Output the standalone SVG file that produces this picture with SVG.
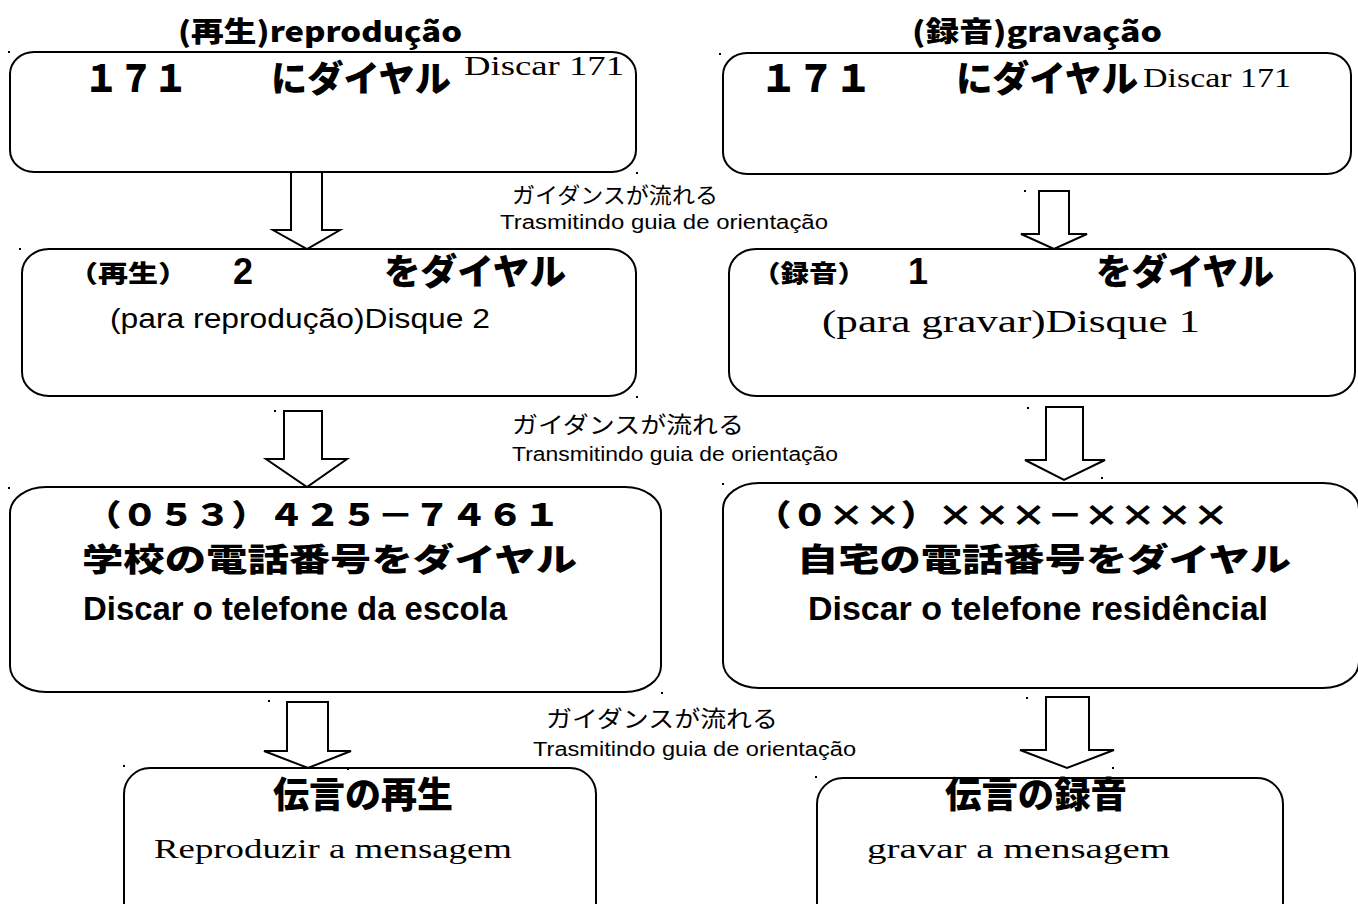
<svg xmlns="http://www.w3.org/2000/svg" width="1358" height="904" viewBox="0 0 1358 904">
<style>
.box{fill:#fff;stroke:#000;stroke-width:2}
.arr{fill:#fff;stroke:#000;stroke-width:2;stroke-linejoin:miter}
.jp{font-family:"Noto Sans CJK JP","Noto Sans CJK SC",sans-serif;font-weight:900;fill:#000}
.jpr{font-family:"Noto Sans CJK JP","Noto Sans CJK SC",sans-serif;font-weight:400;fill:#000}
.nar{font-family:"Liberation Sans Narrow","Liberation Sans","Noto Sans CJK JP",sans-serif;fill:#000}
.sans{font-family:"Liberation Sans",Arial,sans-serif;fill:#000}
.bnum{font-family:"Liberation Sans",Arial,sans-serif;font-weight:700;fill:#000}
.ser{font-family:"Liberation Serif","Times New Roman",serif;fill:#000}
.dot{fill:#000}
</style>
<rect width="1358" height="904" fill="#fff"/>

<g id="titles">
<text class="jp" x="178" y="42" font-size="28" textLength="284" lengthAdjust="spacingAndGlyphs">(再生)reprodução</text>
<text class="jp" x="912" y="42" font-size="28" textLength="250" lengthAdjust="spacingAndGlyphs">(録音)gravação</text>
</g>

<g id="connectors">
<polygon class="arr" points="291,172 322,172 322,230 340,230 307,249 273,230 291,230"/>
<polygon class="arr" points="1039,191 1069,191 1069,234 1087,234 1054,249 1021,234 1039,234"/>
<polygon class="arr" points="284,411 322,411 322,459 347,459 307,487 266,459 284,459"/>
<polygon class="arr" points="1046,407 1083,407 1083,460 1105,460 1064,480 1025,460 1046,460"/>
<polygon class="arr" points="287,702 328,702 328,751 351,751 308,768 264,751 287,751"/>
<polygon class="arr" points="1046,697 1089,697 1089,750 1114,750 1067,768 1020,750 1046,750"/>
</g>

<g id="guide1">
<text class="jpr" x="512" y="203" font-size="22" textLength="206" lengthAdjust="spacingAndGlyphs">ガイダンスが流れる</text>
<text class="nar" x="500" y="229" font-size="20" textLength="328" lengthAdjust="spacingAndGlyphs">Trasmitindo guia de orientação</text>
</g>
<g id="guide2">
<text class="jpr" x="512" y="433" font-size="23" textLength="232" lengthAdjust="spacingAndGlyphs">ガイダンスが流れる</text>
<text class="nar" x="512" y="461" font-size="20" textLength="326" lengthAdjust="spacingAndGlyphs">Transmitindo guia de orientação</text>
</g>
<g id="guide3">
<text class="jpr" x="546" y="727" font-size="23" textLength="232" lengthAdjust="spacingAndGlyphs">ガイダンスが流れる</text>
<text class="nar" x="533" y="756" font-size="20" textLength="323" lengthAdjust="spacingAndGlyphs">Trasmitindo guia de orientação</text>
</g>

<g id="dial171-play">
<rect class="box" x="10" y="52" width="626" height="120" rx="24" ry="22"/>
<text class="jp" x="84" y="92" font-size="38" textLength="104" lengthAdjust="spacingAndGlyphs">１７１</text>
<text class="jp" x="271" y="92" font-size="36" textLength="180" lengthAdjust="spacingAndGlyphs">にダイヤル</text>
<text class="ser" x="464" y="75" font-size="27" textLength="160" lengthAdjust="spacingAndGlyphs">Discar 171</text>
</g>

<g id="dial171-rec">
<rect class="box" x="723" y="53" width="628" height="121" rx="24" ry="22"/>
<text class="jp" x="760" y="92" font-size="38" textLength="112" lengthAdjust="spacingAndGlyphs">１７１</text>
<text class="jp" x="956" y="92" font-size="36" textLength="182" lengthAdjust="spacingAndGlyphs">にダイヤル</text>
<text class="ser" x="1143" y="87" font-size="27" textLength="148" lengthAdjust="spacingAndGlyphs">Discar 171</text>
</g>

<g id="dial2">
<rect class="box" x="22" y="249" width="614" height="147" rx="27" ry="24"/>
<text class="jp" x="68" y="282" font-size="24" textLength="120" lengthAdjust="spacingAndGlyphs">（再生）</text>
<text class="bnum" x="233" y="284" font-size="36">2</text>
<text class="jp" x="384" y="285" font-size="36" textLength="182" lengthAdjust="spacingAndGlyphs">をダイヤル</text>
<text class="sans" x="110" y="328" font-size="28" textLength="380" lengthAdjust="spacingAndGlyphs">(para reprodução)Disque 2</text>
</g>

<g id="dial1">
<rect class="box" x="729" y="249" width="626" height="147" rx="27" ry="24"/>
<text class="jp" x="752" y="282" font-size="24" textLength="114" lengthAdjust="spacingAndGlyphs">（録音）</text>
<text class="bnum" x="908" y="284" font-size="36">1</text>
<text class="jp" x="1096" y="285" font-size="36" textLength="178" lengthAdjust="spacingAndGlyphs">をダイヤル</text>
<text class="ser" x="822" y="332" font-size="32" textLength="378" lengthAdjust="spacingAndGlyphs">(para gravar)Disque 1</text>
</g>

<g id="school">
<rect class="box" x="10" y="487" width="651" height="205" rx="36" ry="26"/>
<text class="jp" x="85" y="526" font-size="30" textLength="475" lengthAdjust="spacingAndGlyphs">（０５３）４２５－７４６１</text>
<text class="jp" x="82" y="571" font-size="32" textLength="495" lengthAdjust="spacingAndGlyphs">学校の電話番号をダイヤル</text>
<text class="nar" x="83" y="620" font-size="33" font-weight="700" textLength="424" lengthAdjust="spacingAndGlyphs">Discar o telefone da escola</text>
</g>

<g id="home">
<rect class="box" x="723" y="483" width="636" height="205" rx="36" ry="26"/>
<text class="jp" x="755" y="526" font-size="30" textLength="474" lengthAdjust="spacingAndGlyphs">（０××）×××－××××</text>
<text class="jp" x="797" y="571" font-size="32" textLength="494" lengthAdjust="spacingAndGlyphs">自宅の電話番号をダイヤル</text>
<text class="nar" x="808" y="620" font-size="33" font-weight="700" textLength="460" lengthAdjust="spacingAndGlyphs">Discar o telefone residêncial</text>
</g>

<g id="play-msg">
<rect class="box" x="124" y="768" width="472" height="160" rx="26" ry="26"/>
<text class="jp" x="273" y="808" font-size="36" textLength="180" lengthAdjust="spacingAndGlyphs">伝言の再生</text>
<text class="ser" x="154" y="858" font-size="28" textLength="358" lengthAdjust="spacingAndGlyphs">Reproduzir a mensagem</text>
</g>

<g id="rec-msg">
<rect class="box" x="817" y="778" width="466" height="150" rx="26" ry="26"/>
<text class="jp" x="945" y="808" font-size="36" textLength="182" lengthAdjust="spacingAndGlyphs">伝言の録音</text>
<text class="ser" x="867" y="858" font-size="28" textLength="303" lengthAdjust="spacingAndGlyphs">gravar a mensagem</text>
</g>

<g id="marks">
<rect class="dot" x="8" y="51" width="2" height="2"/>
<rect class="dot" x="636" y="172" width="2" height="2"/>
<rect class="dot" x="719" y="53" width="2" height="2"/>
<rect class="dot" x="1024" y="190" width="2" height="2"/>
<rect class="dot" x="19" y="248" width="2" height="2"/>
<rect class="dot" x="636" y="396" width="2" height="2"/>
<rect class="dot" x="274" y="410" width="2" height="2"/>
<rect class="dot" x="1027" y="407" width="2" height="2"/>
<rect class="dot" x="1101" y="477" width="2" height="2"/>
<rect class="dot" x="8" y="487" width="2" height="2"/>
<rect class="dot" x="722" y="483" width="2" height="2"/>
<rect class="dot" x="661" y="692" width="2" height="2"/>
<rect class="dot" x="268" y="700" width="2" height="2"/>
<rect class="dot" x="1026" y="697" width="2" height="2"/>
<rect class="dot" x="123" y="765" width="2" height="2"/>
<rect class="dot" x="347" y="768" width="2" height="2"/>
<rect class="dot" x="815" y="776" width="2" height="2"/>
<rect class="dot" x="1112" y="767" width="2" height="2"/>
</g>
</svg>
